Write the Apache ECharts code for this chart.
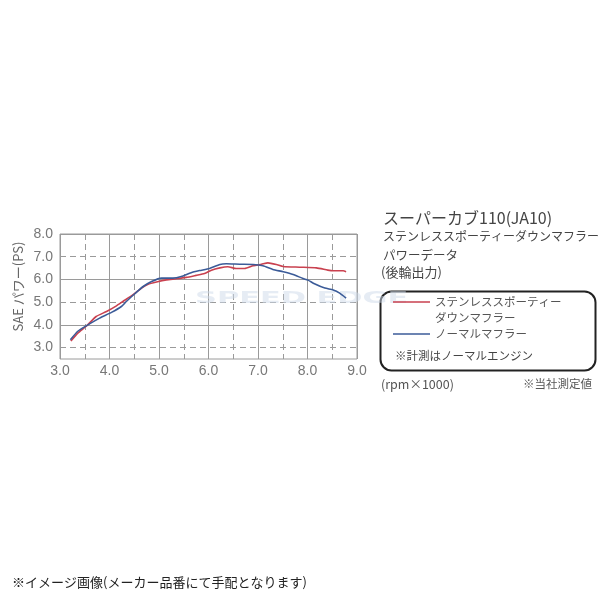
<!DOCTYPE html>
<html>
<head>
<meta charset="utf-8">
<script src="https://cdn.jsdelivr.net/npm/echarts@6/dist/echarts.min.js"></script>
<style>
  html, body { margin: 0; padding: 0; background: #fff; }
  #chart { width: 600px; height: 600px; }
</style>
</head>
<body>
<div id="chart"></div>
<script>
// パワーデータ(後輪出力) — 値はグラフから読み取り
const stainlessName = 'ステンレススポーティー\nダウンマフラー';
const normalName = 'ノーマルマフラー';

const stainlessRpm = [3.22, 3.36, 3.53, 3.73, 3.94, 4.14, 4.27, 4.47, 4.64, 4.78, 4.95, 5.15, 5.35, 5.55, 5.75, 5.92, 6.06, 6.23, 6.39, 6.56, 6.73, 6.90, 7.07, 7.20, 7.37, 7.51, 7.84, 8.18, 8.41, 8.52, 8.72, 8.78];
const stainlessPs  = [3.29, 3.64, 3.94, 4.37, 4.59, 4.84, 5.03, 5.32, 5.61, 5.79, 5.89, 5.98, 6.03, 6.09, 6.18, 6.26, 6.41, 6.51, 6.56, 6.48, 6.48, 6.60, 6.67, 6.73, 6.66, 6.57, 6.54, 6.51, 6.41, 6.38, 6.38, 6.34];

const normalRpm = [3.21, 3.36, 3.53, 3.80, 4.04, 4.24, 4.34, 4.51, 4.68, 4.85, 5.05, 5.28, 5.45, 5.65, 5.82, 6.02, 6.23, 6.36, 6.63, 6.90, 7.10, 7.30, 7.51, 7.71, 7.91, 8.01, 8.14, 8.35, 8.52, 8.65, 8.78];
const normalPs  = [3.35, 3.72, 3.96, 4.30, 4.55, 4.81, 5.03, 5.37, 5.69, 5.91, 6.06, 6.06, 6.13, 6.30, 6.39, 6.48, 6.66, 6.69, 6.67, 6.66, 6.60, 6.44, 6.34, 6.22, 6.04, 5.97, 5.81, 5.62, 5.54, 5.40, 5.18];

const titleLines = ['スーパーカブ110(JA10)', 'ステンレススポーティーダウンマフラー', 'パワーデータ', '(後輪出力)'];

const zip = (xs, ys) => xs.map((x, i) => [x, ys[i]]);

const GRID = '#9a9a9a';
const NONE = 'rgba(0,0,0,0)';
const jp = '"Noto Sans CJK JP", sans-serif';
const num = '"Liberation Sans", sans-serif';

const intLabel = (v) => (Math.abs(v - Math.round(v)) < 1e-6 ? v.toFixed(1) : '');

const chart = echarts.init(document.getElementById('chart'), null, { renderer: 'canvas' });

chart.setOption({
  backgroundColor: '#fff',
  animation: false,
  grid: { left: 60, top: 234, width: 297, height: 125, show: true, borderColor: GRID, borderWidth: 1 },
  xAxis: [
    {
      // 実線のグリッド(整数)とラベル
      type: 'value', min: 3, max: 9, interval: 0.5,
      axisLine: { show: false }, axisTick: { show: false },
      axisLabel: { formatter: intLabel, color: '#777', fontFamily: num, fontSize: 14, margin: 5 },
      splitLine: { show: true, showMinLine: true, showMaxLine: true, lineStyle: { color: [GRID, NONE], width: 1 } },
    },
    {
      // 破線のグリッド(0.5刻み)
      type: 'value', min: 3, max: 9, interval: 0.5, position: 'bottom',
      axisLine: { show: false }, axisTick: { show: false }, axisLabel: { show: false },
      splitLine: { show: true, lineStyle: { color: [NONE, GRID], type: [6, 4], width: 1 } },
    },
  ],
  yAxis: [
    {
      type: 'value', min: 2.5, max: 8, interval: 0.5,
      name: 'SAE パワー(PS)', nameLocation: 'middle', nameGap: 35,
      nameTextStyle: { color: '#666', fontFamily: jp, fontSize: 13, padding: [0, 0, 0, 20] },
      axisLine: { show: false }, axisTick: { show: false },
      axisLabel: { formatter: intLabel, color: '#777', fontFamily: num, fontSize: 14, margin: 7 },
      splitLine: { show: true, lineStyle: { color: [NONE, NONE, NONE, GRID], width: 1 } },
    },
    {
      type: 'value', min: 2.5, max: 8, interval: 0.5, position: 'left',
      axisLine: { show: false }, axisTick: { show: false }, axisLabel: { show: false },
      splitLine: { show: true, lineStyle: { color: [NONE, GRID, NONE, NONE], type: [6, 4], width: 1 } },
    },
  ],
  legend: {
    orient: 'vertical', left: 388, top: 273, itemGap: 0,
    icon: 'rect', itemWidth: 37, itemHeight: 1.5,
    data: [stainlessName, normalName],
    formatter: (name) => (name === stainlessName ? ' \n' + name : name),
    textStyle: { color: '#555', fontFamily: jp, fontSize: 11.5, lineHeight: 16 },
  },
  series: [
    {
      name: stainlessName, type: 'line', data: zip(stainlessRpm, stainlessPs),
      smooth: 0.2, symbol: 'none', xAxisIndex: 0, yAxisIndex: 0,
      lineStyle: { color: '#c9414f', width: 1.6 }, itemStyle: { color: '#c9414f' }, z: 3,
    },
    {
      name: normalName, type: 'line', data: zip(normalRpm, normalPs),
      smooth: 0.2, symbol: 'none', xAxisIndex: 0, yAxisIndex: 0,
      lineStyle: { color: '#3b5b98', width: 1.6 }, itemStyle: { color: '#3b5b98' }, z: 4,
    },
  ],
  graphic: [
    { type: 'text', x: 195, y: 291, scaleX: 1.9, z: 1, silent: true,
      style: { text: 'SPEED EDGE', fill: 'rgba(205,218,233,0.5)', font: 'bold 16px "DejaVu Sans"' } },
    { type: 'text', left: 383, top: 210, style: { text: titleLines[0], fill: '#444', font: '16px ' + jp } },
    { type: 'text', left: 383, top: 230, style: { text: titleLines[1], fill: '#444', font: '12px ' + jp } },
    { type: 'text', left: 383, top: 249, style: { text: titleLines[2], fill: '#444', font: '12.5px ' + jp } },
    { type: 'text', left: 381, top: 266, style: { text: titleLines[3], fill: '#444', font: '13px ' + jp } },
    { type: 'rect', left: 378, top: 289, shape: { width: 215, height: 79, r: 11 },
      style: { fill: 'none', stroke: '#222', lineWidth: 2 } },
    { type: 'text', left: 395, top: 350, style: { text: '※計測はノーマルエンジン', fill: '#444', font: '11.5px ' + jp } },
    { type: 'text', left: 381, top: 378, style: { text: '(rpm×1000)', fill: '#555', font: '12.5px ' + jp } },
    { type: 'text', right: 8, top: 378, style: { text: '※当社測定値', fill: '#555', font: '11.5px ' + jp } },
    { type: 'text', left: 12, top: 576, style: { text: '※イメージ画像(メーカー品番にて手配となります)', fill: '#222', font: '13px ' + jp } },
  ],
});
</script>
</body>
</html>
